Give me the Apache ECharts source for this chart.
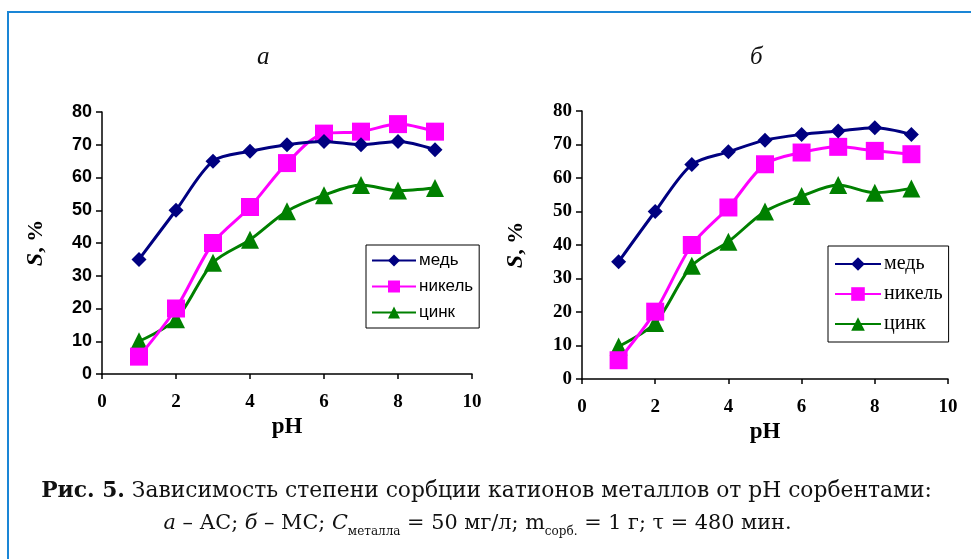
<!DOCTYPE html>
<html>
<head>
<meta charset="utf-8">
<script src="https://cdn.jsdelivr.net/npm/echarts@6/dist/echarts.min.js"></script>
<style>
  html, body { margin: 0; padding: 0; background: #fff; }
  .wrap { position: relative; width: 971px; height: 559px; overflow: hidden; }
  .frame {
    position: absolute; left: 7px; top: 11px; width: 1000px; height: 600px;
    border-left: 2px solid #1a86d6; border-top: 2px solid #1a86d6;
  }
  #chart { position: absolute; left: 0; top: 0; width: 971px; height: 559px; }
  .caption {
    position: absolute; left: 0; top: 473px; width: 971px; text-align: center;
    font-family: 'DejaVu Serif', serif; font-size: 21.8px; line-height: 33px; color: #111;
  }
  .caption b { font-weight: bold; }
  .caption sub { font-size: 12px; vertical-align: -6px; line-height: 0; }
</style>
</head>
<body>
<div class="wrap">
  <div class="frame"></div>
  <div id="chart"></div>
  <div class="caption">
    <div style="margin-left:2px"><b>Рис. 5.</b> Зависимость степени сорбции катионов металлов от pH сорбентами:</div>
    <div style="margin-left:-16px; font-size:20.8px"><i>а</i> – АС; <i>б</i> – МС; <i>C</i><sub>металла</sub> = 50 мг/л; m<sub>сорб.</sub> = 1 г; τ = 480 мин.</div>
  </div>
</div>
<script>
// pH values (x)
const phValues = [1, 2, 3, 4, 5, 6, 7, 8, 9];
const seriesNames = ['медь', 'никель', 'цинк'];

// chart а – АС
const copperA = [35, 50, 65, 68, 70, 71, 70, 71, 68.5];
const nickelA = [5.3, 20, 40, 51, 64.4, 73.4, 74, 76.3, 74];
const zincA = [10, 16.7, 34, 41, 49.7, 54.6, 57.7, 56, 56.8];

// chart б – МС
const copperB = [35, 50, 64, 67.8, 71.3, 73, 74, 75, 73];
const nickelB = [5.6, 20.1, 40, 51.2, 64.1, 67.6, 69.3, 68.1, 67.1];
const zincB = [9.7, 16.7, 33.8, 41, 50, 54.6, 57.9, 55.6, 56.9];

const colors = ['#000080', '#ff00ff', '#008000'];
const symbols = ['diamond', 'rect', 'triangle'];
const symbolSizes = [15, 18, 18];

const chart = echarts.init(document.getElementById('chart'));

const pairs = (ys) => phValues.map((x, i) => [x, ys[i]]);

function makeSeries(dataList, idx) {
  return dataList.map((ys, k) => ({
    name: seriesNames[k],
    type: 'line',
    xAxisIndex: idx,
    yAxisIndex: idx,
    smooth: 0.3,
    data: pairs(ys),
    symbol: symbols[k],
    symbolSize: symbolSizes[k],
    lineStyle: { color: colors[k], width: 3 },
    itemStyle: { color: colors[k] },
    z: 5 - k,
    animation: false
  }));
}

function xAxis(idx) {
  return {
    gridIndex: idx, type: 'value', min: 0, max: 10, interval: 2,
    name: 'pH', nameLocation: 'middle', nameGap: 42,
    nameTextStyle: { fontFamily: 'Liberation Serif', fontWeight: 'bold', fontSize: 23, color: '#000' },
    axisLine: { show: true, onZero: false, lineStyle: { color: '#000', width: 1.5 } },
    axisTick: { show: true, inside: false, length: 5, lineStyle: { color: '#000', width: 1.5 } },
    axisLabel: { margin: 19, fontFamily: 'Liberation Serif', fontWeight: 'bold', fontSize: 19, color: '#000' },
    splitLine: { show: false }
  };
}

function yAxis(idx, labelFont, labelSize, gap) {
  return {
    gridIndex: idx, type: 'value', min: 0, max: 80, interval: 10,
    name: '{i|S}{n|, %}', nameLocation: 'middle', nameRotate: 90, nameGap: gap,
    nameTextStyle: {
      rich: {
        i: { fontFamily: 'Liberation Serif', fontStyle: 'italic', fontWeight: 'bold', fontSize: 24, color: '#000' },
        n: { fontFamily: 'Liberation Serif', fontWeight: 'bold', fontSize: 22, color: '#000' }
      }
    },
    axisLine: { show: true, lineStyle: { color: '#000', width: 1.5 } },
    axisTick: { show: true, inside: false, length: 6, lineStyle: { color: '#000', width: 1.5 } },
    axisLabel: { margin: 10, fontFamily: labelFont, fontWeight: 'bold', fontSize: labelSize, color: '#000' },
    splitLine: { show: false }
  };
}

const option = {
  backgroundColor: 'transparent',
  animation: false,
  title: [
    { text: 'а', left: 252, top: 40, textStyle: { fontFamily: 'Liberation Serif', fontStyle: 'italic', fontWeight: 'normal', fontSize: 25, color: '#111' } },
    { text: 'б', left: 745, top: 40, textStyle: { fontFamily: 'Liberation Serif', fontStyle: 'italic', fontWeight: 'normal', fontSize: 25, color: '#111' } }
  ],
  grid: [
    { left: 102, top: 112, width: 370, height: 262 },
    { left: 582, top: 111, width: 366, height: 268 }
  ],
  xAxis: [xAxis(0), xAxis(1)],
  yAxis: [yAxis(0, 'Liberation Sans', 18, 54), yAxis(1, 'Liberation Serif', 19, 54)],
  legend: [
    {
      data: seriesNames, orient: 'vertical', left: 366, top: 245,
      padding: [7, 6, 7, 5], itemGap: 9,
      itemWidth: 44, itemHeight: 15,
      borderColor: '#000', borderWidth: 1, borderRadius: 0,
      textStyle: { fontFamily: 'Liberation Sans', fontSize: 17, color: '#000', padding: [0, 0, 0, -2] }
    },
    {
      data: seriesNames, orient: 'vertical', left: 828, top: 246,
      padding: [8, 6, 8, 6], itemGap: 10,
      itemWidth: 46, itemHeight: 17,
      borderColor: '#000', borderWidth: 1, borderRadius: 0,
      textStyle: { fontFamily: 'Liberation Serif', fontSize: 20, color: '#000', padding: [0, 0, 0, -2] }
    }
  ],
  series: [
    ...makeSeries([copperA, nickelA, zincA], 0),
    ...makeSeries([copperB, nickelB, zincB], 1)
  ]
};

chart.setOption(option);
</script>
</body>
</html>
